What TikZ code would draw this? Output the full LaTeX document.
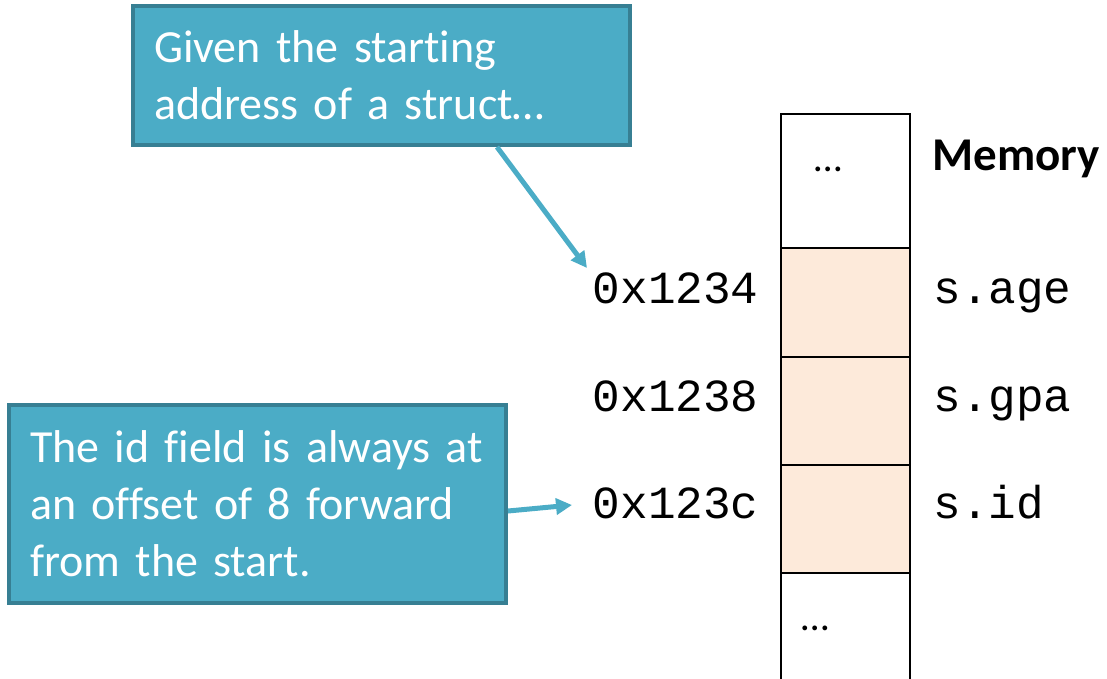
\documentclass[tikz,border=0pt]{standalone}
\usepackage{fontspec}
\setmainfont{Carlito}[Ligatures={NoCommon,NoContextual},Contextuals=NoAlternate]
\setmonofont{Liberation Mono}
\usetikzlibrary{arrows.meta}
\definecolor{calloutfill}{HTML}{4BACC6}
\definecolor{calloutedge}{HTML}{377F93}
\definecolor{fieldfill}{HTML}{FDEADA}
\tikzset{
  callout/.style={draw=calloutedge, line width=4pt, fill=calloutfill, text=white,
    anchor=north west, inner sep=0pt, outer sep=0pt, align=left, font=\fontsize{46}{57}\selectfont},
  cell/.style={draw=black, line width=2.5pt, minimum width=129pt, anchor=north west,
    inner sep=0pt, outer sep=0pt},
  field/.style={cell, fill=fieldfill},
  addr/.style={anchor=base east, font=\ttfamily\fontsize{46}{50}\selectfont},
  fname/.style={anchor=base west, font=\ttfamily\fontsize{46}{50}\selectfont},
  dots/.style={anchor=base, font=\fontsize{40}{48}\selectfont},
  pointer/.style={draw=calloutfill, line width=5pt, -{Triangle[length=16pt,width=16pt]}},
}
\begin{document}
\begin{tikzpicture}[x=1pt, y=-1pt]
  \path[use as bounding box] (0,0) rectangle (1107,678);

  % memory column
  \node[cell, minimum height=134pt] (top) at (781,114) {};
  \node[field, minimum height=109pt] (age) at (781,248) {};
  \node[field, minimum height=108pt] (gpa) at (781,357) {};
  \node[field, minimum height=108pt] (id) at (781,465) {};
  \coordinate (bot) at (781,682);
  \draw[line width=2.5pt] (id.south west) -- (id.south west |- bot);
  \draw[line width=2.5pt] (id.south east) -- (id.south east |- bot);
  \node[dots] (dotstop) at (828,171) {…};
  \node[dots] (dotsbot) at (815,630) {…};

  \node[anchor=base west, font=\bfseries\fontsize{47}{56}\selectfont] (memlabel) at (929,170) {Memory};

  % addresses and field names
  \node[addr] (a1) at (762,303) {0x1234};
  \node[addr] (a2) at (762,411) {0x1238};
  \node[addr] (a3) at (762,518) {0x123c};
  \node[fname] (f1) at (930,303) {s.age};
  \node[fname] (f2) at (930,411) {s.gpa};
  \node[fname] (f3) at (930,518) {s.id};

  % callouts
  \node[callout, minimum width=497pt, minimum height=139pt, text width=455pt] (c1) at (133,6)
    {Given the starting\\address of a struct…};
  \node[callout, minimum width=497pt, minimum height=198pt, text width=455pt] (c2) at (9,405)
    {The id field is always at\\an offset of 8 forward\\from the start.};

  % pointers
  \coordinate (c1out) at (497,147);
  \coordinate (tip1) at (587,268);
  \draw[pointer] (c1out) -- (tip1);
  \coordinate (c2out) at (508,511);
  \coordinate (tip2) at (572,505);
  \draw[pointer] (c2out) -- (tip2);
\end{tikzpicture}
\end{document}
